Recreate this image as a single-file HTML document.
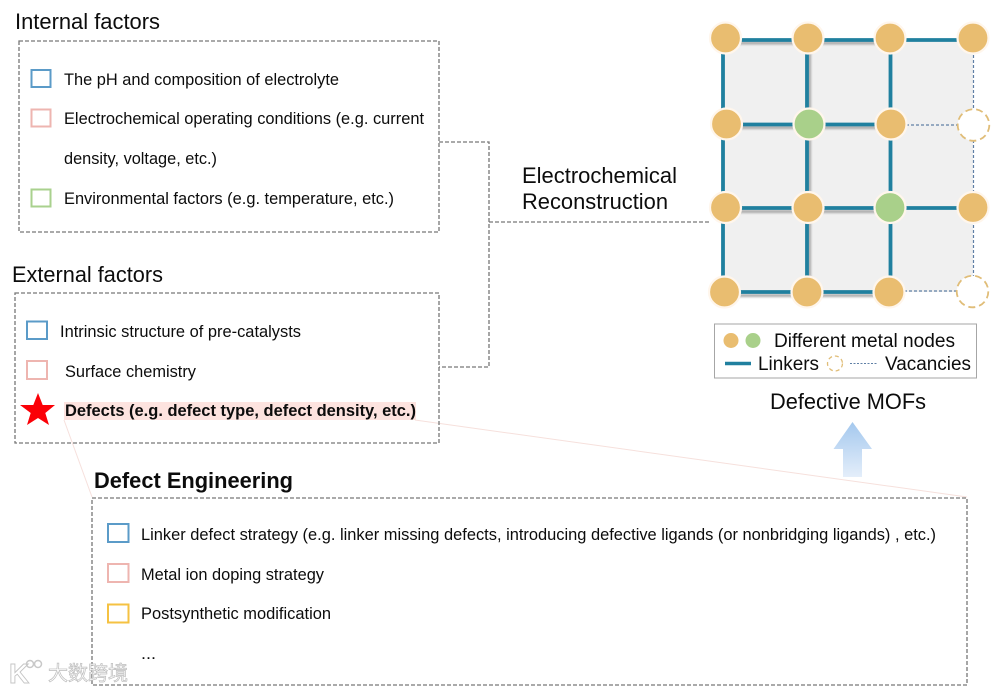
<!DOCTYPE html>
<html><head><meta charset="utf-8"><style>
html,body{margin:0;padding:0;background:#fff;width:994px;height:690px;overflow:hidden}
svg{display:block;filter:blur(.35px)}
text{font-family:"Liberation Sans",sans-serif;fill:#0c0c0c}
</style></head><body>
<svg width="994" height="690" viewBox="0 0 994 690" xmlns="http://www.w3.org/2000/svg">
<defs>
<linearGradient id="ag" x1="0" y1="0" x2="0" y2="1"><stop offset="0" stop-color="#a4c8ee"/><stop offset="1" stop-color="#e4eefa"/></linearGradient>
<filter id="sb" x="-5%" y="-5%" width="110%" height="110%"><feGaussianBlur stdDeviation="1"/></filter>
</defs>
<!-- pink guide lines -->
<g stroke="#f6e0dc" stroke-width="1" fill="none"><path d="M64 420L92 497"/><path d="M415 420L967 497"/></g>
<!-- dashed boxes -->
<g fill="none" stroke="#777" stroke-width="1.300" stroke-dasharray="4 2">
<rect x="19" y="41" width="420" height="191"/>
<rect x="15" y="293" width="424" height="150"/>
<rect x="92" y="498" width="875" height="187"/>
<path d="M439 142H489V367H439"/>
<path d="M489 222H711"/>
</g>
<!-- headings -->
<text x="15" y="29" font-size="22" textLength="145" lengthAdjust="spacingAndGlyphs">Internal factors</text>
<text x="12" y="282" font-size="22" textLength="151" lengthAdjust="spacingAndGlyphs">External factors</text>
<text x="94" y="488" font-size="22" font-weight="bold" textLength="199" lengthAdjust="spacingAndGlyphs">Defect Engineering</text>
<text x="522" y="183" font-size="22" textLength="155" lengthAdjust="spacingAndGlyphs">Electrochemical</text>
<text x="522" y="209" font-size="22" textLength="146" lengthAdjust="spacingAndGlyphs">Reconstruction</text>
<!-- squares -->
<g fill="#fff" stroke-width="2">
<rect x="31.500" y="70" width="19" height="17" stroke="#5b9bc8"/>
<rect x="31.500" y="109.500" width="19" height="17" stroke="#eeb5b0"/>
<rect x="31.500" y="189.500" width="19" height="17" stroke="#a9d18e"/>
<rect x="27" y="321.500" width="20" height="17.500" stroke="#5b9bc8"/>
<rect x="27" y="361" width="20" height="18" stroke="#eeb5b0"/>
<rect x="108" y="524" width="20.500" height="18" stroke="#5b9bc8"/>
<rect x="108" y="564" width="20.500" height="18" stroke="#eeb5b0"/>
<rect x="108" y="604.500" width="20.500" height="18" stroke="#f5c242"/>
</g>
<!-- star -->
<polygon points="38,393 42.700,405 55,405 45.300,413 49,425 38,418 27,425 30.700,413 20,405 33.300,405" fill="#fb0007"/>
<!-- highlight -->
<rect x="64" y="402" width="352" height="18" fill="#fde3df"/>
<!-- list text -->
<g font-size="16.300">
<text x="64" y="85" textLength="275" lengthAdjust="spacingAndGlyphs">The pH and composition of electrolyte</text>
<text x="64" y="124" textLength="360" lengthAdjust="spacingAndGlyphs">Electrochemical operating conditions (e.g. current</text>
<text x="64" y="164" textLength="153" lengthAdjust="spacingAndGlyphs">density, voltage, etc.)</text>
<text x="64" y="204" textLength="330" lengthAdjust="spacingAndGlyphs">Environmental factors (e.g. temperature, etc.)</text>
<text x="60" y="337" textLength="241" lengthAdjust="spacingAndGlyphs">Intrinsic structure of pre-catalysts</text>
<text x="65" y="377" textLength="131" lengthAdjust="spacingAndGlyphs">Surface chemistry</text>
<text x="65" y="416" font-weight="bold" textLength="351" lengthAdjust="spacingAndGlyphs">Defects (e.g. defect type, defect density, etc.)</text>
<text x="141" y="540" textLength="795" lengthAdjust="spacingAndGlyphs">Linker defect strategy (e.g. linker missing defects, introducing defective ligands (or nonbridging ligands) , etc.)</text>
<text x="141" y="580" textLength="183" lengthAdjust="spacingAndGlyphs">Metal ion doping strategy</text>
<text x="141" y="619" textLength="190" lengthAdjust="spacingAndGlyphs">Postsynthetic modification</text>
<text x="141" y="659" textLength="15" lengthAdjust="spacingAndGlyphs">...</text>
</g>
<!-- grid background -->
<rect x="724" y="39" width="249" height="253" fill="#f0f0f0"/>
<!-- shadows -->
<g stroke="#a8a8a8" stroke-width="3" fill="none" filter="url(#sb)">
<path d="M725 43H890M726 127.500H891M725 211.500H890M724 295.500H889"/>
<path d="M809.500 38V292"/>
</g>
<!-- linkers -->
<g stroke="#20809f" stroke-width="3.800" fill="none">
<path d="M725 40H973M726 124.500H891M725 208H973M724 292H889"/>
<path d="M723 38V292M807 38V292M890.500 38V292"/>
</g>
<!-- vacancies -->
<g stroke="#5f7fa5" stroke-width="1.200" stroke-dasharray="3 2" fill="none">
<path d="M973.500 50V292M891 125H973M889 291H972"/>
</g>
<!-- nodes -->
<g stroke="#fff6ec" stroke-width="2.200" fill="#e9bd70">
<circle cx="725.500" cy="38" r="15.500"/><circle cx="808" cy="38" r="15.500"/><circle cx="890" cy="38" r="15.500"/><circle cx="973" cy="38" r="15.500"/>
<circle cx="726.500" cy="124" r="15.500"/><circle cx="891" cy="124" r="15.500"/>
<circle cx="725.500" cy="207.500" r="15.500"/><circle cx="808" cy="207.500" r="15.500"/><circle cx="973" cy="207.500" r="15.500"/>
<circle cx="724.500" cy="292" r="15.500"/><circle cx="807" cy="292" r="15.500"/><circle cx="889" cy="292" r="15.500"/>
<circle cx="809" cy="124" r="15.500" fill="#a9d08a"/>
<circle cx="890" cy="207.500" r="15.500" fill="#a9d08a"/>
</g>
<g fill="#fff" stroke="#e0bd78" stroke-width="1.800" stroke-dasharray="7 4">
<circle cx="973.500" cy="125" r="15.800"/>
<circle cx="972.500" cy="291.500" r="15.800"/>
</g>
<!-- legend -->
<rect x="714.500" y="324" width="262" height="54" fill="#fff" stroke="#a6a6a6" stroke-width="1"/>
<circle cx="731" cy="340.500" r="7.500" fill="#e9bd70"/>
<circle cx="753" cy="340.500" r="7.500" fill="#a9d08a"/>
<text x="774" y="347" font-size="19" textLength="181" lengthAdjust="spacingAndGlyphs">Different metal nodes</text>
<path d="M725 363.500H751" stroke="#20809f" stroke-width="3.500"/>
<text x="758" y="370" font-size="19" textLength="61" lengthAdjust="spacingAndGlyphs">Linkers</text>
<circle cx="835" cy="363.500" r="7.500" fill="#fff" stroke="#e0bd78" stroke-width="1.300" stroke-dasharray="4 3"/>
<path d="M850 363.500H877" stroke="#5f7fa5" stroke-width="1" stroke-dasharray="2 1.500"/>
<text x="885" y="370" font-size="19" textLength="86" lengthAdjust="spacingAndGlyphs">Vacancies</text>
<text x="770" y="409" font-size="22" textLength="156" lengthAdjust="spacingAndGlyphs">Defective MOFs</text>
<!-- up arrow -->
<polygon points="852.500,422 872,449 862,449 862,477 843,477 843,449 833.500,449" fill="url(#ag)"/>
<!-- watermark -->
<text x="9" y="683" font-size="28" font-weight="bold" style="fill:#fff;stroke:#c4c4c4;stroke-width:.9">K</text>
<circle cx="30" cy="664" r="3.500" fill="none" stroke="#c8c8c8" stroke-width="1.500"/>
<circle cx="38" cy="664" r="3.500" fill="none" stroke="#c8c8c8" stroke-width="1.500"/>
<text x="48" y="680" font-size="20" textLength="80" lengthAdjust="spacingAndGlyphs" style="font-family:'Liberation Sans','Noto Sans CJK SC',sans-serif;fill:#fff;stroke:#bdbdbd;stroke-width:.7">大数跨境</text>
</svg>
</body></html>
